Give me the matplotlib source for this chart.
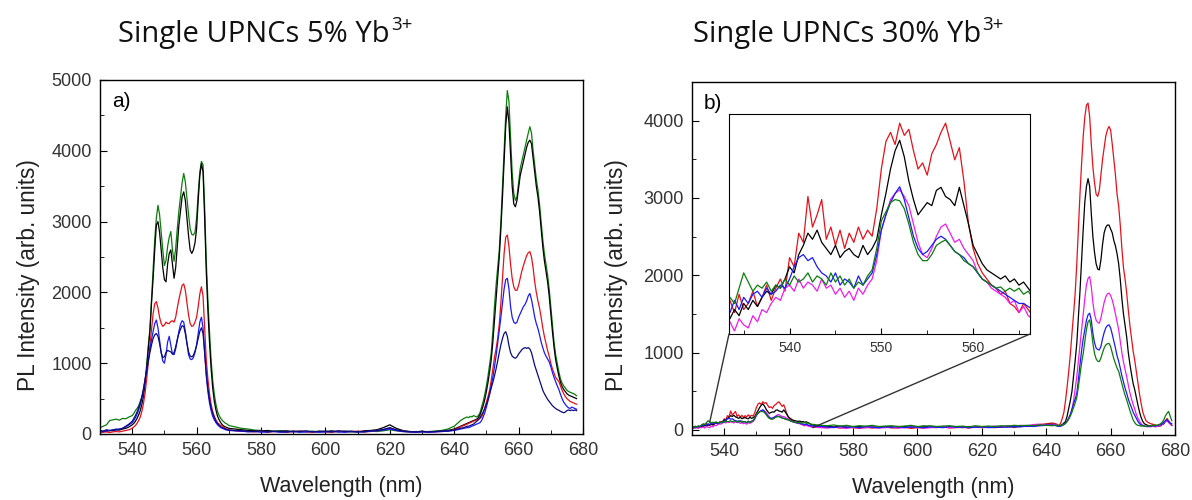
import numpy as np
import matplotlib
matplotlib.use("Agg")
import matplotlib.pyplot as plt
from matplotlib.patches import ConnectionPatch
from matplotlib.ticker import MultipleLocator

plt.rcParams["font.family"] = ["Liberation Sans", "DejaVu Sans"]

# ---- panel a) single UPNCs 5% Yb ----
# wavelength sampling (nm): coarse in the flat baseline, 0.5 nm in the bands
nm_5 = np.concatenate([np.arange(530, 541, 1.0), np.arange(540.5, 570.5, 0.5),
                       np.arange(572, 641, 2.0), np.arange(641, 645, 1.0),
                       np.arange(644.5, 678.5, 0.5)])

green_5 = [90, 110, 130, 190, 200, 210, 195, 220, 215, 240, 260,
           290, 330, 360, 400, 460, 520, 600, 760, 980, 1250,
           1480, 1900, 2300, 2750, 3050, 3230, 3100, 2850, 2600, 2380,
           2450, 2650, 2780, 2860, 2600, 2440, 2620, 2900, 3150, 3350,
           3550, 3680, 3560, 3330, 3100, 2900, 2820, 2810, 2850, 3050,
           3400, 3700, 3850, 3800, 3200, 2450, 1900, 1450, 1050, 760,
           560, 420, 320, 260, 220, 190, 170, 150, 140, 120,
           100, 80, 70, 55, 50, 45, 40, 45, 35, 40,
           30, 35, 40, 30, 35, 30, 40, 35, 30, 35,
           30, 40, 35, 45, 60, 45, 35, 30, 35, 30,
           35, 40, 50, 70, 110,
           150, 190, 220, 240,
           230, 250, 240, 260, 250, 240, 260, 300, 380, 460,
           560, 680, 820, 980, 1150, 1450, 1800, 2100, 2350, 2600,
           3000, 3500, 4000, 4500, 4850, 4700, 4200, 3700, 3400, 3300,
           3350, 3550, 3750, 3850, 3950, 4050, 4150, 4250, 4340, 4250,
           4000, 3800, 3600, 3450, 3250, 3000, 2750, 2550, 2400, 2250,
           2050, 1800, 1550, 1300, 1120, 1000, 880, 780, 720, 680,
           650, 620, 600, 590, 580, 570, 560, 540]

black_5 = [30, 40, 35, 50, 45, 60, 55, 70, 80, 100, 130,
           150, 180, 220, 270, 330, 420, 530, 700, 930, 1200,
           1450, 1850, 2200, 2600, 2950, 3000, 2850, 2600, 2350, 2180,
           2150, 2400, 2550, 2600, 2400, 2200, 2350, 2650, 2950, 3150,
           3350, 3420, 3300, 3050, 2800, 2600, 2550, 2600, 2700, 2900,
           3300, 3650, 3820, 3700, 3050, 2300, 1750, 1300, 930, 650,
           460, 340, 250, 200, 160, 130, 110, 100, 90, 80,
           70, 60, 50, 45, 40, 50, 35, 40, 45, 30,
           40, 35, 30, 40, 35, 45, 30, 40, 35, 30,
           45, 50, 60, 90, 130, 80, 50, 35, 30, 40,
           30, 35, 40, 50, 70,
           90, 110, 130, 150,
           160, 170, 180, 190, 200, 210, 230, 270, 330, 400,
           490, 600, 730, 880, 1050, 1300, 1600, 1900, 2200, 2500,
           2900, 3350, 3850, 4350, 4620, 4400, 3950, 3500, 3250, 3210,
           3300, 3480, 3650, 3750, 3850, 3950, 4050, 4120, 4150, 4100,
           3900, 3700, 3500, 3350, 3150, 2900, 2650, 2450, 2300, 2150,
           1950, 1700, 1450, 1230, 1050, 930, 820, 730, 670, 630,
           600, 570, 550, 540, 530, 520, 510, 500]

red_5 = [20, 25, 30, 20, 30, 35, 30, 40, 50, 60, 80,
         100, 120, 150, 190, 240, 320, 430, 580, 780, 1000,
         1250, 1480, 1700, 1840, 1870, 1780, 1650, 1560, 1520, 1540,
         1580, 1560, 1560, 1590, 1600, 1580, 1650, 1780, 1900, 2000,
         2100, 2120, 2030, 1850, 1680, 1560, 1520, 1530, 1580, 1650,
         1800, 1980, 2080, 1950, 1500, 1050, 780, 570, 420, 320,
         250, 200, 160, 140, 120, 110, 90, 80, 70, 60,
         45, 40, 35, 30, 40, 25, 35, 30, 25, 35,
         40, 30, 25, 35, 30, 25, 40, 30, 35, 40,
         30, 35, 45, 60, 80, 55, 40, 30, 25, 35,
         30, 30, 35, 40, 60,
         80, 100, 120, 140,
         150, 160, 170, 180, 190, 200, 210, 220, 240, 290,
         370, 450, 530, 620, 760, 920, 1080, 1200, 1350, 1550,
         1850, 2200, 2550, 2780, 2810, 2650, 2400, 2200, 2080, 2030,
         2030, 2100, 2200, 2300, 2380, 2450, 2520, 2560, 2575, 2500,
         2350, 2150, 2000, 1880, 1780, 1650, 1500, 1380, 1280, 1180,
         1100, 1000, 920, 860, 800, 770, 740, 680, 620, 570,
         530, 500, 480, 460, 450, 440, 430, 420]

blue_5 = [40, 30, 50, 45, 60, 55, 70, 80, 100, 130, 160,
          190, 230, 280, 340, 410, 500, 620, 760, 900, 1060,
          1200, 1330, 1450, 1560, 1610, 1500, 1320, 1150, 1030, 1000,
          1120, 1300, 1380, 1250, 1130, 1120, 1200, 1330, 1450, 1550,
          1600, 1580, 1450, 1280, 1120, 1060, 1050, 1080, 1150, 1260,
          1420, 1580, 1650, 1500, 1150, 820, 600, 440, 330, 250,
          200, 160, 130, 110, 90, 80, 70, 60, 55, 50,
          45, 40, 30, 35, 25, 30, 35, 25, 30, 35,
          25, 30, 35, 25, 30, 35, 30, 25, 35, 30,
          30, 40, 45, 55, 70, 50, 35, 30, 25, 30,
          25, 30, 35, 40, 50,
          60, 70, 80, 90,
          90, 100, 110, 120, 130, 140, 150, 160, 190, 240,
          300, 380, 470, 560, 680, 800, 950, 1100, 1280, 1450,
          1650, 1850, 2050, 2180, 2200, 2050, 1800, 1650, 1580, 1560,
          1580, 1650, 1700, 1750, 1800, 1830, 1880, 1950, 1985, 1900,
          1780, 1650, 1560, 1490, 1400, 1300, 1220, 1150, 1100, 1060,
          1020, 950, 870, 800, 740, 680, 630, 560, 500, 450,
          420, 390, 370, 360, 380, 370, 360, 350]

navy_5 = [50, 40, 60, 50, 55, 70, 65, 80, 110, 140, 180,
          220, 260, 310, 370, 440, 530, 640, 770, 900, 1030,
          1150, 1260, 1350, 1400, 1420, 1380, 1280, 1150, 1080, 1090,
          1150, 1180, 1170, 1160, 1130, 1150, 1230, 1330, 1420, 1480,
          1530, 1520, 1420, 1280, 1160, 1100, 1090, 1110, 1170, 1250,
          1350, 1450, 1500, 1420, 1150, 860, 650, 490, 370, 290,
          230, 180, 150, 120, 100, 90, 80, 70, 60, 55,
          50, 45, 40, 35, 45, 30, 40, 35, 30, 40,
          35, 45, 30, 35, 40, 30, 45, 35, 40, 30,
          35, 45, 50, 65, 90, 60, 40, 35, 30, 35,
          30, 35, 40, 45, 55,
          70, 80, 90, 110,
          110, 120, 130, 140, 160, 180, 200, 230, 270, 310,
          360, 420, 490, 570, 650, 730, 820, 920, 1030, 1150,
          1260, 1350, 1420, 1445, 1380, 1250, 1150, 1100, 1080, 1070,
          1090, 1130, 1160, 1190, 1210, 1220, 1210, 1220, 1200, 1150,
          1060, 970, 900, 830, 760, 690, 620, 570, 530, 490,
          460, 430, 400, 380, 360, 345, 335, 320, 310, 300,
          310, 330, 340, 330, 340, 330, 340, 330]

# ---- panel b) single UPNCs 30% Yb ----
nm_30 = np.concatenate([np.arange(530, 567.5, 0.5), np.arange(568, 643, 2.0),
                        np.arange(643, 679.5, 0.5)])

red_30 = [30, 45, 25, 40, 35, 50, 40, 75, 55, 85,
          60, 70, 90, 65, 80, 100, 75, 95, 110, 90,
          145, 130, 185, 170, 245, 195, 215, 240, 175, 195,
          165, 190, 160, 185, 170, 195, 175, 190, 180, 225,
          290, 335, 350, 330, 365, 345, 355, 320, 290, 300,
          280, 315, 330, 350, 365, 335, 305, 325, 270, 200,
          160, 135, 120, 110, 100, 95, 85, 90, 70, 65,
          55, 70, 60, 50, 45,
          40, 35, 30, 40, 25, 35, 30, 20, 35, 25,
          30, 40, 25, 30, 35, 20, 30, 25, 35, 30,
          40, 25, 30, 35, 25, 40, 30, 35, 30, 40,
          45, 35, 50, 45, 60, 70, 80, 90,
          80, 70, 60, 90, 150, 230, 380, 560, 760, 980,
          1250, 1500, 1770, 2150, 2600, 3060, 3450, 3800, 4050, 4200,
          4227, 4050, 3700, 3400, 3200, 3050, 3020, 3100, 3300, 3500,
          3650, 3800, 3880, 3925, 3880, 3700, 3500, 3300, 3050, 2900,
          2650, 2350, 2100, 1950, 1770, 1550, 1350, 1180, 1020, 900,
          750, 600, 460, 340, 230, 170, 120, 100, 90, 80,
          75, 70, 60, 55, 60, 50, 70, 90, 110, 150,
          120, 90, 60]

black_30 = [35, 25, 40, 30, 45, 35, 50, 45, 60, 50,
            70, 60, 75, 65, 80, 90, 85, 100, 95, 110,
            130, 120, 150, 165, 185, 175, 190, 170, 160, 150,
            165, 145, 155, 160, 150, 145, 165, 150, 160, 175,
            215, 250, 290, 320, 337, 310, 270, 240, 215, 225,
            235, 230, 255, 260, 245, 240, 230, 260, 230, 200,
            165, 150, 135, 125, 120, 115, 110, 115, 105, 110,
            100, 105, 95, 85, 70,
            60, 50, 45, 40, 50, 35, 40, 45, 30, 40,
            35, 45, 40, 30, 45, 35, 40, 50, 35, 40,
            45, 35, 40, 30, 45, 40, 35, 45, 40, 35,
            50, 40, 45, 50, 55, 60, 70, 75,
            60, 55, 50, 60, 70, 90, 110, 180, 280, 380,
            500, 700, 900, 1120, 1450, 1800, 2200, 2600, 2950, 3150,
            3250, 3150, 2800, 2500, 2300, 2150, 2080, 2070, 2200, 2400,
            2550, 2620, 2650, 2650, 2600, 2550, 2450, 2380, 2280, 2150,
            1950, 1700, 1500, 1350, 1200, 1000, 850, 720, 600, 520,
            420, 320, 230, 160, 110, 80, 70, 60, 55, 50,
            60, 50, 45, 55, 50, 60, 70, 80, 110, 130,
            100, 80, 60]

magenta_30 = [20, 35, 25, 30, 20, 35, 30, 40, 25, 45,
              35, 30, 50, 40, 60, 55, 70, 80, 75, 95,
              100, 90, 110, 95, 105, 100, 90, 110, 95, 100,
              85, 95, 80, 90, 75, 95, 85, 100, 110, 140,
              190, 215, 240, 250, 256, 245, 230, 200, 170, 150,
              145, 160, 180, 195, 200, 185, 170, 175, 160, 150,
              140, 120, 110, 105, 95, 90, 85, 80, 70, 75,
              55, 65, 50, 45, 40,
              35, 30, 25, 35, 30, 20, 35, 25, 30, 40,
              25, 30, 35, 25, 30, 40, 35, 25, 30, 35,
              45, 30, 35, 40, 30, 45, 35, 40, 50, 40,
              55, 45, 60, 55, 70, 75, 65, 70,
              70, 60, 55, 50, 60, 70, 90, 120, 160, 200,
              260, 380, 530, 690, 900, 1100, 1300, 1500, 1700, 1880,
              1960, 1984, 1850, 1650, 1500, 1420, 1390, 1380, 1450, 1550,
              1650, 1720, 1760, 1770, 1740, 1680, 1600, 1500, 1400, 1300,
              1150, 1000, 880, 780, 690, 580, 480, 400, 330, 270,
              200, 150, 110, 80, 60, 50, 45, 40, 45, 40,
              50, 45, 40, 50, 55, 60, 70, 90, 110, 120,
              100, 80, 60]

blue_30 = [40, 30, 45, 35, 50, 40, 65, 55, 75, 60,
           80, 70, 85, 90, 80, 95, 85, 90, 100, 95,
           110, 130, 145, 150, 140, 145, 130, 120, 115, 105,
           120, 100, 110, 105, 95, 115, 100, 110, 120, 150,
           190, 215, 235, 250, 261, 240, 210, 180, 160, 150,
           155, 165, 175, 180, 175, 165, 155, 150, 145, 135,
           130, 120, 110, 105, 100, 95, 90, 85, 80, 75,
           70, 70, 65, 60, 55,
           50, 45, 40, 30, 45, 35, 40, 30, 45, 35,
           30, 40, 35, 45, 30, 40, 35, 30, 40, 35,
           30, 45, 35, 40, 30, 35, 40, 30, 35, 40,
           35, 45, 40, 50, 45, 55, 60, 65,
           55, 50, 45, 50, 60, 70, 85, 110, 150, 200,
           270, 340, 400, 475, 650, 850, 1030, 1180, 1300, 1420,
           1490, 1510, 1420, 1250, 1130, 1060, 1040, 1035, 1080, 1180,
           1260, 1320, 1350, 1360, 1320, 1240, 1150, 1060, 960, 890,
           800, 700, 620, 540, 475, 400, 340, 290, 230, 190,
           150, 110, 80, 65, 55, 50, 45, 50, 45, 50,
           55, 50, 55, 60, 65, 70, 80, 100, 120, 130,
           110, 90, 80]

green_30 = [45, 35, 50, 40, 55, 45, 65, 80, 70, 95,
            120, 105, 90, 100, 95, 105, 90, 100, 95, 110,
            100, 115, 105, 110, 120, 105, 115, 110, 100, 120,
            105, 115, 100, 110, 95, 105, 100, 115, 125, 160,
            205, 220, 235, 240, 238, 225, 200, 170, 150, 140,
            140, 150, 165, 170, 174, 165, 155, 150, 140, 135,
            130, 120, 110, 105, 100, 95, 97, 90, 95, 90,
            95, 85, 90, 80, 75,
            70, 60, 55, 65, 50, 60, 45, 55, 50, 60,
            45, 50, 55, 45, 50, 60, 45, 50, 55, 45,
            50, 55, 45, 50, 40, 55, 45, 50, 45, 55,
            50, 60, 55, 60, 55, 65, 60, 55,
            65, 60, 55, 60, 65, 75, 90, 110, 140, 180,
            230, 290, 350, 420, 560, 720, 870, 990, 1150, 1300,
            1400, 1423, 1300, 1120, 990, 920, 890, 884, 930, 1000,
            1060, 1100, 1115, 1120, 1080, 1000, 920, 860, 800, 760,
            680, 600, 520, 450, 388, 320, 250, 190, 130, 95,
            70, 60, 55, 50, 55, 50, 45, 50, 55, 50,
            60, 55, 65, 60, 70, 80, 100, 130, 180, 215,
            240, 180, 120]

series_5 = [(green_5, "#0b7d0b"), (black_5, "black"), (red_5, "#e8101a"),
            (blue_5, "#1a1aff"), (navy_5, "#0a0a80")]
series_30 = [(red_30, "#e8101a"), (black_30, "black"), (magenta_30, "#f01cf0"),
             (blue_30, "#1a1aff"), (green_30, "#0b7d0b")]

titles = [("Single UPNCs 5% Yb", 118), ("Single UPNCs 30% Yb", 693)]

fig = plt.figure(figsize=(11.92, 5.0), dpi=100)
ax1 = fig.add_axes([100 / 1192, 66 / 500, 483 / 1192, 354 / 500])
ax2 = fig.add_axes([692 / 1192, 65 / 500, 483 / 1192, 353 / 500])
axin = fig.add_axes([729 / 1192, 166 / 500, 301 / 1192, 220 / 500])

for vals, col in series_5:
    ax1.plot(nm_5, vals, color=col, lw=0.9)
for vals, col in series_30:
    ax2.plot(nm_30, vals, color=col, lw=0.9)
    axin.plot(nm_30, vals, color=col, lw=0.9)

ax1.set_xlim(530, 680)
ax1.set_ylim(0, 5000)
ax2.set_xlim(530, 680)
ax2.set_ylim(-65, 4500)
axin.set_xlim(533.4, 566.2)
axin.set_ylim(20, 380)

for ax, lx, ly in ((ax1, -0.124, 0.45), (ax2, -0.132, 0.453)):
    ax.xaxis.set_major_locator(MultipleLocator(20))
    ax.xaxis.set_minor_locator(MultipleLocator(10))
    ax.yaxis.set_major_locator(MultipleLocator(1000))
    ax.yaxis.set_minor_locator(MultipleLocator(500))
    ax.tick_params(which="both", direction="in", top=False, right=False,
                   labelsize=13, labelcolor="#333333", pad=6)
    ax.tick_params(which="major", length=5)
    ax.tick_params(which="minor", length=3)
    ax.set_xlabel("Wavelength (nm)", fontsize=15.5, color="#222222")
    ax.set_ylabel("PL Intensity (arb. units)", fontsize=16.3, color="#222222")
    ax.xaxis.set_label_coords(0.5, -0.12)
    ax.yaxis.set_label_coords(lx, ly)
    for sp in ax.spines.values():
        sp.set_linewidth(1.0)

axin.xaxis.set_major_locator(MultipleLocator(10))
axin.xaxis.set_minor_locator(MultipleLocator(5))
axin.set_yticks([])
axin.tick_params(which="both", direction="in", top=False, labelsize=10,
                 labelcolor="#333333", pad=5)
axin.tick_params(which="major", length=4)
axin.tick_params(which="minor", length=3)

ax1.text(0.025, 0.965, "a)", transform=ax1.transAxes, fontsize=15, va="top")
ax2.text(0.025, 0.965, "b)", transform=ax2.transAxes, fontsize=15, va="top")

for xa, xb in ((0, (535.5, 100)), (1, (567.5, 30))):
    con = ConnectionPatch(xyA=(xa, 0), coordsA=axin.transAxes, xyB=xb,
                          coordsB=ax2.transData, color="#333333", lw=1.0)
    fig.add_artist(con)

# titles: main text plus a raised, smaller "3+"
title_font = ["Open Sans", "DejaVu Sans"]
renderer = fig.canvas.get_renderer()
for txt, x0 in titles:
    t = fig.text(x0 / 1192, 1 - 42 / 500, txt, fontsize=21, family=title_font,
                 va="baseline", ha="left", color="#111111")
    bb = t.get_window_extent(renderer=renderer)
    fig.text(bb.x1 / 1192 + 0.001, 1 - 30 / 500, "3+", fontsize=13.5,
             family=title_font, va="baseline", ha="left", color="#111111")

fig.savefig("out.png", dpi=100)
